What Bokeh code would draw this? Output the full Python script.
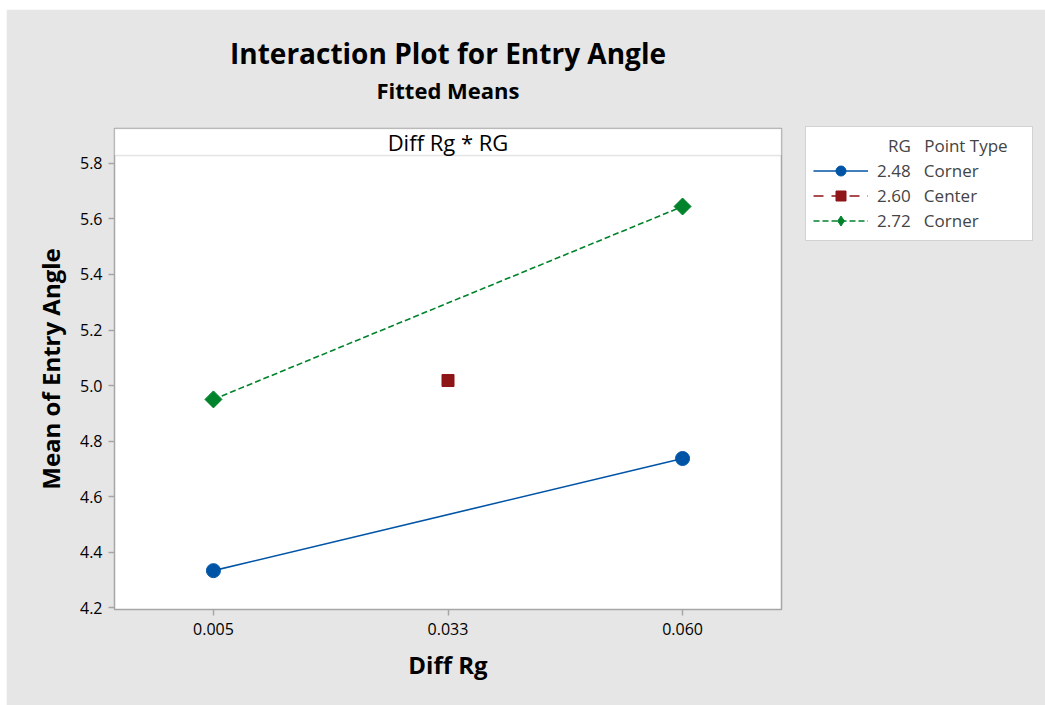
import math
from bokeh.plotting import figure
from bokeh.models import (Range1d, FixedTicker, Legend, LegendItem,
                          BoxAnnotation, Label, Title, LinearAxis)
from bokeh.embed import file_html
from bokeh.resources import INLINE

# ---- data ----
diff_rg_ticks = [0.005, 0.0325, 0.060]
diff_rg_tick_labels = ["0.005", "0.033", "0.060"]
y_ticks = [4.2, 4.4, 4.6, 4.8, 5.0, 5.2, 5.4, 5.6, 5.8]

rg248_x = [0.005, 0.060]
rg248_y = [4.333, 4.737]
rg260_x = [0.0325]
rg260_y = [5.018]
rg272_x = [0.005, 0.060]
rg272_y = [4.950, 5.645]

series_labels = ["2.48\u00a0\u00a0\u00a0Corner", "2.60\u00a0\u00a0\u00a0Center", "2.72\u00a0\u00a0\u00a0Corner"]
legend_title = "\u00a0" * 17 + "RG\u00a0\u00a0\u00a0Point Type" + "\u00a0" * 4
colors = ["#0054a6", "#8e1518", "#00832b"]

FONT = "Open Sans"
GRID = "#a6a6a6"
BG = "#e6e6e6"

p = figure(frame_width=667, frame_height=481, output_backend="svg", toolbar_location=None,
           x_range=Range1d(-0.0066, 0.0716), y_range=Range1d(4.193, 5.926),
           min_border_left=108, min_border_top=119, min_border_bottom=96,
           min_border_right=264, margin=(9, 0, 0, 6),
           background_fill_color="white", border_fill_color=BG,
           outline_line_color=GRID, outline_line_width=1.5)
p.title = None
p.grid.visible = False

# strip
strip = BoxAnnotation(bottom=5.829, fill_color="white", fill_alpha=1.0,
                      line_color=GRID, line_width=1.5)
p.add_layout(strip)
p.add_layout(Label(x=0.0325, y=5.877, text="Diff Rg * RG", text_align="center",
                   text_baseline="middle", text_font=FONT, text_font_size="22px",
                   text_color="black"))

# axes
p.xaxis.ticker = FixedTicker(ticks=diff_rg_ticks)
p.xaxis.major_label_overrides = {t: l for t, l in zip(diff_rg_ticks, diff_rg_tick_labels)}
p.yaxis.ticker = FixedTicker(ticks=y_ticks)
p.yaxis.major_label_overrides = {t: f"{t:.1f}" for t in y_ticks}
for ax in (p.xaxis[0], p.yaxis[0]):
    ax.axis_line_color = None
    ax.major_tick_line_color = GRID
    ax.major_tick_line_width = 1.5
    ax.major_tick_out = 6
    ax.major_tick_in = 0
    ax.minor_tick_line_color = None
    ax.major_label_text_font = FONT
    ax.major_label_text_font_size = "16px"
    ax.major_label_text_color = "black"
    ax.axis_label_text_font = FONT
    ax.axis_label_text_font_size = "24px"
    ax.axis_label_text_font_style = "bold"
    ax.axis_label_text_color = "black"
p.xaxis.axis_label = "Diff Rg"
p.yaxis.axis_label = "Mean of Entry Angle"
p.xaxis.major_label_standoff = 7
p.yaxis.major_label_standoff = 6
p.xaxis.axis_label_standoff = 10
p.yaxis.axis_label_standoff = 10

# series
l1 = p.line(rg248_x, rg248_y, line_color=colors[0], line_width=1.6)
m1 = p.scatter(rg248_x, rg248_y, marker="circle", size=14, fill_color=colors[0], line_color=colors[0])
l2 = p.line(rg260_x, rg260_y, line_color=colors[1], line_width=1.6, line_dash="10 8")
m2 = p.scatter(rg260_x, rg260_y, marker="square", size=12, fill_color=colors[1], line_color=colors[1])
l3 = p.line(rg272_x, rg272_y, line_color=colors[2], line_width=1.6, line_dash="6 3")
# diamond key (used by the legend), covered in the plot by the rotated square
k3 = p.scatter(rg272_x, rg272_y, marker="diamond", size=11,
               fill_color=colors[2], line_color=colors[2])
m3 = p.scatter(rg272_x, rg272_y, marker="square", size=12, angle=math.pi / 4,
               fill_color=colors[2], line_color=colors[2])

legend = Legend(items=[LegendItem(label=series_labels[0], renderers=[l1, m1]),
                       LegendItem(label=series_labels[1], renderers=[l2, m2]),
                       LegendItem(label=series_labels[2], renderers=[l3, k3])],
                title=legend_title,
                location=(24, 368), margin=0, padding=7, spacing=0,
                glyph_width=55, glyph_height=25, label_standoff=9,
                label_text_font=FONT, label_text_font_size="17px",
                title_text_font=FONT, title_text_font_size="17px",
                title_text_font_style="normal", title_standoff=1,
                border_line_color=GRID, border_line_width=1.5,
                background_fill_color="white", background_fill_alpha=1.0)
p.add_layout(legend, "right")

# subtitle as a bare axis label above the plot, then main title
sub_axis = LinearAxis(axis_label="Fitted Means", ticker=FixedTicker(ticks=[]),
                      axis_line_color=None, major_tick_out=0, major_tick_in=0,
                      minor_tick_line_color=None, major_label_text_font_size="0px",
                      major_label_standoff=0, axis_label_standoff=24,
                      axis_label_text_font=FONT, axis_label_text_font_size="22px",
                      axis_label_text_font_style="bold", axis_label_text_color="black")
p.add_layout(sub_axis, "above")
p.add_layout(Title(text="Interaction Plot for Entry Angle", align="center",
                   text_font=FONT, text_font_size="28px", text_font_style="bold",
                   text_color="black", standoff=0), "above")

open("out.html", "w").write(file_html(p, INLINE))
